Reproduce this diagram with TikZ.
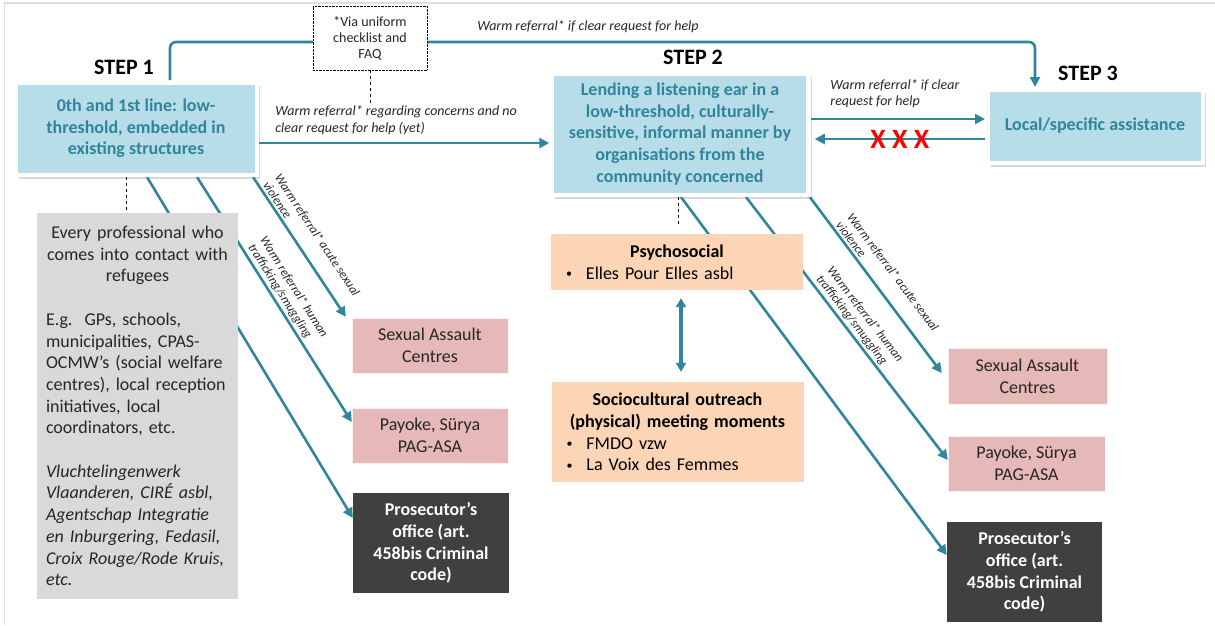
\documentclass[tikz,border=0pt]{standalone}
\usepackage{fontspec}
\setmainfont{Carlito}
\usepackage{tikz}
\usetikzlibrary{arrows.meta, positioning, shadows, backgrounds, calc}

\definecolor{stepblue}{RGB}{183, 222, 232}
\definecolor{boxteal}{RGB}{49, 132, 155}
\definecolor{lineteal}{RGB}{49, 133, 156}
\definecolor{profgray}{RGB}{217, 217, 217}
\definecolor{helppink}{RGB}{230, 184, 183}
\definecolor{commpeach}{RGB}{251, 213, 181}
\definecolor{prosdark}{RGB}{64, 64, 64}
\definecolor{textdark}{RGB}{38, 38, 38}

\newcommand{\bulletitem}{\par\noindent\hspace*{4pt}\raisebox{1.5pt}{\fontsize{12}{12}\selectfont\textbullet}\hspace{14pt}}

\begin{document}
\begin{tikzpicture}[x=1pt, y=-1pt,
  stepbox/.style={draw=white, line width=4.5pt, fill=stepblue, text=boxteal, align=center,
    font=\fontsize{18}{21.7}\selectfont\bfseries,
    drop shadow={shadow xshift=3.5pt, shadow yshift=-4pt, opacity=0.3}},
  steplabel/.style={font=\fontsize{22}{26}\selectfont\bfseries},
  helpbox/.style={fill=helppink, draw=white!80!helppink, align=center, text=textdark,
    minimum width=156pt, minimum height=55pt, font=\fontsize{18}{21.7}\selectfont},
  prosbox/.style={fill=prosdark, align=center, text=white, minimum width=156pt,
    minimum height=100pt, font=\fontsize{18}{21.7}\selectfont\bfseries},
  commbox/.style={fill=commpeach, text=black, text width=230pt, inner xsep=11pt,
    font=\fontsize{18}{21.7}\selectfont},
  refarrow/.style={draw=lineteal, line width=2.6pt, -{Triangle[length=10pt, width=10pt]}},
  duoarrow/.style={draw=lineteal, line width=3.2pt, {Triangle[length=9pt, width=10pt]}-{Triangle[length=9pt, width=10pt]}},
  reflabel/.style={font=\fontsize{14}{16.5}\selectfont\itshape, text=textdark, align=left},
  slopelabel/.style={font=\fontsize{12.5}{14}\selectfont\itshape, text=textdark, align=left,
    sloped, above=1pt, inner sep=1pt, pos=0.5},
  linkdash/.style={dashed, thin, black}
]
  \useasboundingbox (0,0) rectangle (1215,625);
  \draw[gray!25, line width=1.2pt] (4.5,625) -- (4.5,3) -- (1215,3);

  % Steps
  \node[stepbox, minimum width=241.5pt, minimum height=92.5pt] (step1) at (136, 128.5) {0th and 1st line: low-\\threshold, embedded in\\existing structures};
  \node[stepbox, minimum width=257pt, minimum height=121.5pt] (step2) at (680, 134) {Lending a listening ear in a\\low-threshold, culturally-\\sensitive, informal manner by\\organisations from the\\community concerned};
  \node[stepbox, minimum width=215.5pt, minimum height=73.5pt] (step3) at (1095, 126) {Local/specific assistance};

  \node[steplabel, above=1.6pt of step1, xshift=-12pt] (s1label) {STEP 1};
  \node[steplabel, above=2.6pt of step2, xshift=13pt] (s2label) {STEP 2};
  \node[steplabel, above=2.6pt of step3, xshift=-7pt] (s3label) {STEP 3};

  % Referrals between steps
  \coordinate (topbend) at (588, 42);
  \draw[refarrow, rounded corners=6pt] ([xshift=34pt]step1.north) |- (topbend) -| ([xshift=-60pt]step3.north);
  \node[reflabel, above=6pt of topbend] (toplabel) {Warm referral* if clear request for help};

  \node[draw=black, densely dotted, fill=white, minimum width=114pt, minimum height=64pt, align=center, text=textdark, font=\fontsize{14}{16}\selectfont] (via) at (370, 38) {*Via uniform\\checklist and\\FAQ};
  \coordinate (viaend) at (370, 103);
  \draw[linkdash] (via.south) -- (viaend);

  \draw[refarrow] ([yshift=-14.5pt]step1.east) -- ([yshift=-14.5pt]step1.east -| step2.west)
    node[reflabel, midway, above=4pt, xshift=-8pt] {Warm referral* regarding concerns and no\\clear request for help (yet)};
  \draw[refarrow] ([yshift=15pt]step2.east) -- ([yshift=15pt]step2.east -| step3.west)
    node[reflabel, midway, above=6.5pt, xshift=-3pt] {Warm referral* if clear\\request for help};
  \draw[refarrow] ([yshift=-5pt]step2.east -| step3.west) -- ([xshift=4pt, yshift=-5pt]step2.east)
    node[midway, text=red, font=\fontsize{28}{30}\selectfont\bfseries] (nogo) {X X X};

  % Step 1 partners
  \node[fill=profgray, text=textdark, minimum width=201pt, minimum height=386pt, text width=183pt, inner xsep=9pt, font=\fontsize{18}{21.7}\selectfont] (prof) at (137.5, 406) {%
    {\centering Every professional who\\comes into contact with\\refugees\par}
    \vspace{21.7pt}
    {\raggedright E.g.\ \ GPs, schools,\\municipalities, CPAS-\\OCMW’s (social welfare\\centres), local reception\\initiatives, local\\coordinators, etc.\par}
    \vspace{21.7pt}
    {\raggedright\itshape Vluchtelingenwerk\\Vlaanderen, CIRÉ asbl,\\Agentschap Integratie\\en Inburgering, Fedasil,\\Croix Rouge/Rode Kruis,\\etc.\par}};
  \draw[linkdash] ([xshift=-10pt]step1.south) -- ([xshift=-10pt]step1.south |- prof.north);

  \node[helpbox] (sac1) at (430, 345.5) {Sexual Assault\\Centres};
  \node[helpbox] (pay1) at (430, 435.5) {Payoke, Sürya\\PAG-ASA};
  \node[prosbox] (pros1) at (431, 543) {Prosecutor’s\\office (art.\\458bis Criminal\\code)};

  % Step 2 partners
  \node[commbox, minimum height=56pt] (psycho) at (677, 262) {{\centering\bfseries Psychosocial\par}\bulletitem Elles Pour Elles asbl};
  \node[commbox, minimum height=100pt] (socio) at (677.5, 432) {{\centering\bfseries Sociocultural outreach\\(physical) meeting moments\par}\bulletitem FMDO vzw\bulletitem La Voix des Femmes};
  \draw[linkdash] ([xshift=-2pt]step2.south) -- ([xshift=-2pt, yshift=7pt]step2.south |- psycho.north);
  \draw[duoarrow] ([xshift=4pt, yshift=-8pt]psycho.south) -- ([xshift=4pt, yshift=10pt]psycho.south |- socio.north);

  \node[helpbox, minimum width=159pt, minimum height=56pt] (sac2) at (1027.5, 376) {Sexual Assault\\Centres};
  \node[helpbox, minimum width=157pt] (pay2) at (1026.5, 463.5) {Payoke, Sürya\\PAG-ASA};
  \node[prosbox, minimum width=155pt] (pros2) at (1024.5, 572) {Prosecutor’s\\office (art.\\458bis Criminal\\code)};

  % Specific referrals
  \begin{scope}[on background layer]
    \draw[refarrow] ([xshift=11pt]step1.south) -- ([yshift=25pt]pros1.west);
    \draw[refarrow] ([xshift=61pt]step1.south) -- ([yshift=13.5pt]pay1.west)
      node[slopelabel] {Warm referral* human\\trafficking/smuggling};
    \draw[refarrow] ([xshift=117pt]step1.south) -- ([xshift=-6pt, yshift=1pt]sac1.north west)
      node[slopelabel] {Warm referral* acute sexual\\violence};
    \draw[refarrow] ([xshift=1pt]step2.south) -- ([yshift=17pt]pros2.west);
    \draw[refarrow] ([xshift=66pt]step2.south) -- ([yshift=3.5pt]pay2.west)
      node[slopelabel] {Warm referral* human\\trafficking/smuggling};
    \draw[refarrow] ([xshift=-1pt]step2.south east) -- ([xshift=-6pt, yshift=3pt]sac2.west)
      node[slopelabel] {Warm referral* acute sexual\\violence};
  \end{scope}
\end{tikzpicture}
\end{document}
